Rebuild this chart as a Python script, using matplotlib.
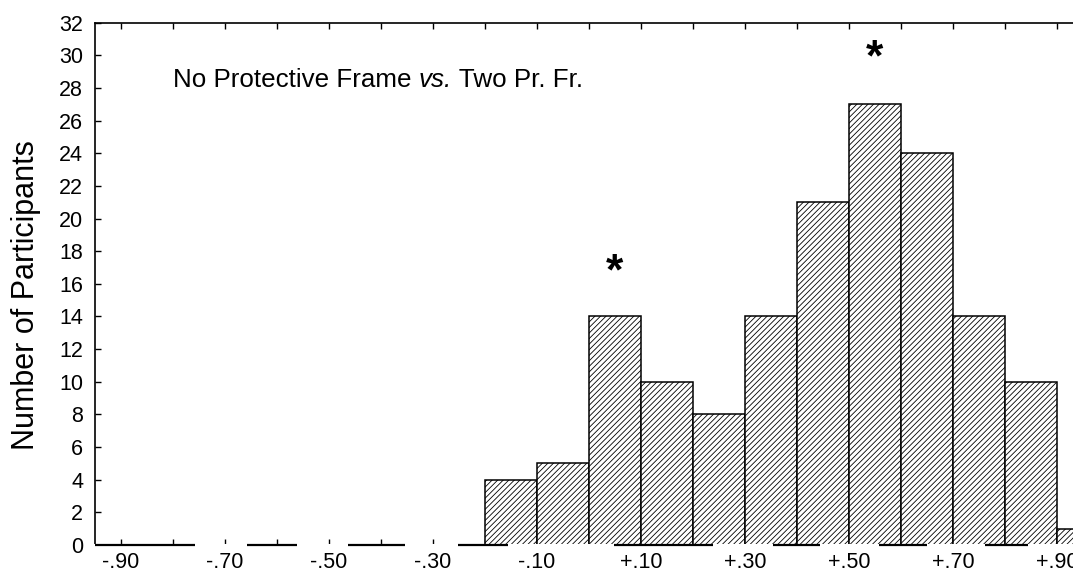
import numpy as np
import matplotlib.pyplot as plt

plt.rcParams['font.family'] = ['Liberation Sans', 'DejaVu Sans']
plt.rcParams['hatch.linewidth'] = 0.6

# histogram bins (left edges) and counts
bin_left = [-0.2, -0.1, 0.0, 0.1, 0.2, 0.3, 0.4, 0.5, 0.6, 0.7, 0.8, 0.9]
counts = [4, 5, 14, 10, 8, 14, 21, 27, 24, 14, 10, 1]
bin_width = 0.1

tick_pos = [-0.9, -0.7, -0.5, -0.3, -0.1, 0.1, 0.3, 0.5, 0.7, 0.9]
tick_labels = ["-.90", "-.70", "-.50", "-.30", "-.10", "+.10", "+.30", "+.50", "+.70", "+.90"]
minor_pos = [-0.8, -0.6, -0.4, -0.2, 0.0, 0.2, 0.4, 0.6, 0.8, 1.0]

# significance stars: bin centres and heights
star_x = [0.05, 0.55]
star_y = [16.7, 29.8]

# the baseline in the original is only drawn in pieces
base_pieces = [(-0.95, -0.758), (-0.658, -0.562), (-0.463, -0.354), (-0.252, -0.156),
               (0.048, 0.238), (0.354, 0.444), (0.558, 0.650), (0.762, 0.844)]

fig = plt.figure(figsize=(10.73, 5.73), dpi=100)
ax = fig.add_axes([0.0885, 0.0489, 0.9692, 0.9115])

ax.bar(bin_left, counts, width=bin_width, align='edge', color='white',
       edgecolor='black', linewidth=1.1, hatch='//////', zorder=2)

ax.set_xlim(-0.95, 1.05)
ax.set_ylim(0, 32)
ax.set_yticks(np.arange(0, 33, 2))
ax.set_xticks(tick_pos)
ax.set_xticklabels(tick_labels)
ax.set_xticks(minor_pos, minor=True)

ax.tick_params(axis='both', which='both', direction='in', length=4, width=1,
               top=True, labelsize=15.5)
ax.tick_params(axis='x', pad=5)
ax.tick_params(axis='y', pad=8.5)
for s in ax.spines.values():
    s.set_linewidth(1.2)
ax.spines['bottom'].set_visible(False)

# white-out the bar bottoms, then draw the broken baseline
ax.axhline(0, color='white', linewidth=2.2, zorder=3, clip_on=False)
for a, b in base_pieces:
    ax.plot([a, b], [0, 0], color='black', linewidth=1.6, zorder=4,
            clip_on=False, solid_capstyle='butt')

ax.set_ylabel("Number of Participants", fontsize=22)
ax.yaxis.set_label_coords(-0.052, 0.479)

t1 = ax.text(-0.80, 28.5, "No Protective Frame ", fontsize=18.7, va='center')
t2 = ax.annotate("vs.", xy=(1, 0), xycoords=t1, va='bottom', ha='left',
                 fontsize=18.7, style='italic')
ax.annotate(" Two Pr. Fr.", xy=(1, 0), xycoords=t2, va='bottom', ha='left',
            fontsize=18.7)

for x, y in zip(star_x, star_y):
    ax.text(x, y, "*", fontsize=32, fontweight='bold', ha='center', va='center')

fig.savefig("out.png", dpi=100)
